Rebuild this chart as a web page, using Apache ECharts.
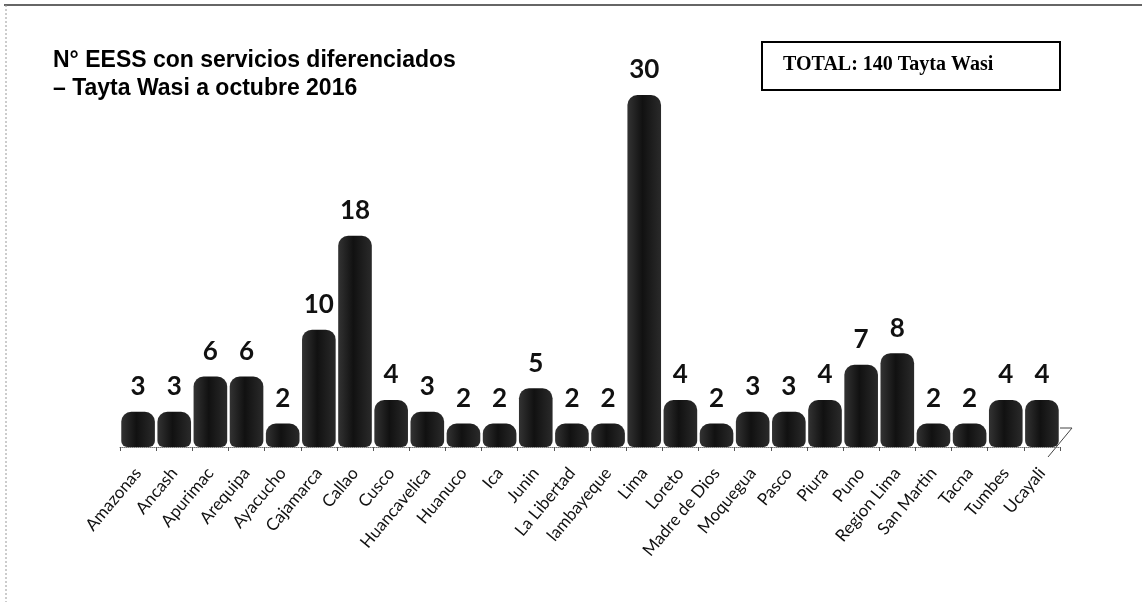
<!DOCTYPE html>
<html>
<head>
<meta charset="utf-8">
<style>
  html, body { margin: 0; padding: 0; background: #ffffff; }
  #chart { width: 1142px; height: 602px; }
</style>
<script src="https://cdn.jsdelivr.net/npm/echarts@6/dist/echarts.min.js"></script>
</head>
<body>
<div id="chart"></div>
<script>
// Health facilities (EESS) with Tayta Wasi differentiated services, by region
const regions = [
  'Amazonas', 'Ancash', 'Apurimac', 'Arequipa', 'Ayacucho', 'Cajamarca', 'Callao',
  'Cusco', 'Huancavelica', 'Huanuco', 'Ica', 'Junin', 'La Libertad', 'lambayeque',
  'Lima', 'Loreto', 'Madre de Dios', 'Moquegua', 'Pasco', 'Piura', 'Puno',
  'Region Lima', 'San Martin', 'Tacna', 'Tumbes', 'Ucayali'
];
const facilities = [3, 3, 6, 6, 2, 10, 18, 4, 3, 2, 2, 5, 2, 2, 30, 4, 2, 3, 3, 4, 7, 8, 2, 2, 4, 4];
const titleLines = ['N° EESS con servicios diferenciados', '– Tayta Wasi a octubre 2016'];
const totalText = 'TOTAL: 140 Tayta Wasi';

const chart = echarts.init(document.getElementById('chart'), null, { renderer: 'canvas' });

// dark cylinder shading for the bars
const barFill = new echarts.graphic.LinearGradient(0, 0, 1, 0, [
  { offset: 0, color: '#333333' },
  { offset: 0.45, color: '#111111' },
  { offset: 1, color: '#2a2a2a' }
]);

chart.setOption({
  animation: false,
  backgroundColor: '#ffffff',
  grid: { left: 120, right: 82, top: 95, bottom: 155 },
  xAxis: {
    type: 'category',
    data: regions,
    offset: 11,
    axisLine: { show: true, lineStyle: { color: '#777', width: 1, type: 'dotted' } },
    axisTick: { show: true, length: 4, lineStyle: { color: '#555' } },
    axisLabel: {
      rotate: 50,
      interval: 0,
      margin: 12,
      fontFamily: 'Lato',
      fontSize: 17,
      color: '#111'
    }
  },
  yAxis: {
    type: 'value',
    min: 0,
    max: 30,
    show: false,
    splitLine: { show: false }
  },
  series: [{
    type: 'bar',
    data: facilities,
    barCategoryGap: '7%',
    itemStyle: { color: barFill, borderRadius: [10, 10, 6, 6] },
    label: {
      show: true,
      position: 'top',
      distance: 12,
      fontFamily: 'Lato',
      fontWeight: 'bold',
      fontSize: 26,
      color: '#111'
    }
  }],
  graphic: [
    // page frame (top and left edges)
    { type: 'line', shape: { x1: 4, y1: 5, x2: 1142, y2: 5 }, style: { stroke: '#333', lineWidth: 1.5 } },
    { type: 'line', shape: { x1: 6, y1: 5, x2: 6, y2: 602 }, style: { stroke: '#999', lineWidth: 1, lineDash: [2, 2] } },
    // chart title
    {
      type: 'text', left: 53, top: 47,
      style: {
        text: titleLines.join('\n'),
        font: 'bold 23px "Liberation Sans", Arial, sans-serif',
        lineHeight: 28,
        fill: '#000'
      }
    },
    // total box
    {
      type: 'rect', shape: { x: 762, y: 42, width: 298, height: 48 },
      style: { fill: '#fff', stroke: '#000', lineWidth: 2 }
    },
    {
      type: 'text', left: 783, top: 55,
      style: {
        text: totalText,
        font: 'bold 20px "Liberation Serif", "Times New Roman", serif',
        fill: '#000'
      }
    },
    // receding floor edge at the right end of the axis
    {
      type: 'polyline',
      shape: { points: [[1048, 457], [1072, 428], [1060, 428]] },
      style: { stroke: '#444', lineWidth: 1, fill: null }
    }
  ]
});
</script>
</body>
</html>
